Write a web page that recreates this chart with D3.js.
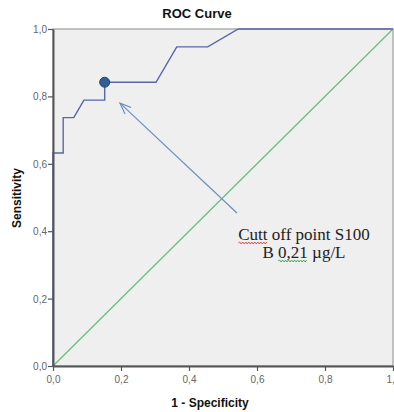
<!DOCTYPE html>
<html>
<head>
<meta charset="utf-8">
<script src="https://cdn.jsdelivr.net/npm/d3@7"></script>
<style>
  body { margin: 0; background: #fff; }
  svg { display: block; }
</style>
</head>
<body>
<div id="chart"></div>
<script>
// ROC points (1 - specificity, sensitivity)
const fpr = [0, 0, 0.030, 0.030, 0.061, 0.091, 0.152, 0.152, 0.303, 0.364, 0.455, 0.545, 1];
const tpr = [0, 0.632, 0.632, 0.737, 0.737, 0.789, 0.789, 0.842, 0.842, 0.947, 0.947, 1, 1];
const cutoff = [0.152, 0.842];
const ticks = [0, 0.2, 0.4, 0.6, 0.8, 1.0];
const tickLabels = ["0,0", "0,2", "0,4", "0,6", "0,8", "1,0"];
const noteLines = ["Cutt off point S100", "B 0,21 \u00b5g/L"];

const W = 394, H = 412;
const margin = { left: 53, right: 1, top: 29, bottom: 46 };
const width = W - margin.left - margin.right;
const height = H - margin.top - margin.bottom;

const svg = d3.select("#chart").append("svg")
  .attr("width", W).attr("height", H);

const x = d3.scaleLinear().domain([0, 1]).range([0, width]);
const y = d3.scaleLinear().domain([0, 1]).range([height, 0]);

const g = svg.append("g")
  .attr("transform", "translate(" + margin.left + "," + margin.top + ")");

// plot background
g.append("rect")
  .attr("x", 0).attr("y", 0)
  .attr("width", width).attr("height", height)
  .attr("fill", "#efefef")
  .attr("stroke", "#8a8a8a")
  .attr("stroke-width", 1);

// reference diagonal
g.append("line")
  .attr("x1", x(0)).attr("y1", y(0))
  .attr("x2", x(1)).attr("y2", y(1))
  .attr("stroke", "#6cbf80")
  .attr("stroke-width", 1.3);

// ROC curve
const pts = fpr.map((d, i) => [d, tpr[i]]);
g.append("path")
  .datum(pts)
  .attr("fill", "none")
  .attr("stroke", "#5866a6")
  .attr("stroke-width", 1.4)
  .attr("d", d3.line().x(d => x(d[0])).y(d => y(d[1])));

// axes
const xAxis = g.append("g")
  .attr("transform", "translate(0," + height + ")")
  .call(d3.axisBottom(x).tickValues(ticks).tickFormat((d, i) => tickLabels[i]).tickSize(5).tickSizeOuter(0));
const yAxis = g.append("g")
  .call(d3.axisLeft(y).tickValues(ticks).tickFormat((d, i) => tickLabels[i]).tickSize(5).tickSizeOuter(0));

[xAxis, yAxis].forEach(a => {
  a.select(".domain").attr("stroke", "#555").attr("stroke-width", 2);
  a.selectAll(".tick line").attr("stroke", "#555").attr("stroke-width", 1.2);
  a.selectAll("text")
    .attr("fill", "#666")
    .style("font-family", "Arial, 'Liberation Sans', sans-serif")
    .style("font-size", "10px");
});
xAxis.selectAll("text").attr("dy", "0.9em");
yAxis.selectAll("text").attr("x", -6).attr("dy", "0.35em");

// cutoff point
g.append("circle")
  .attr("cx", x(cutoff[0])).attr("cy", y(cutoff[1]))
  .attr("r", 5)
  .attr("fill", "#2f5f94")
  .attr("stroke", "#24476f")
  .attr("stroke-width", 1);

// arrow pointing at the cutoff
const a0 = [0.541, 0.454], a1 = [0.197, 0.78];
g.append("line")
  .attr("x1", x(a0[0])).attr("y1", y(a0[1]))
  .attr("x2", x(a1[0])).attr("y2", y(a1[1]))
  .attr("stroke", "#6b8fc2")
  .attr("stroke-width", 1.2);
const ang = Math.atan2(y(a0[1]) - y(a1[1]), x(a0[0]) - x(a1[0]));
const hl = 12, spread = 0.38;
g.append("path")
  .attr("fill", "none")
  .attr("stroke", "#6b8fc2")
  .attr("stroke-width", 1.2)
  .attr("d", "M" + (x(a1[0]) + hl * Math.cos(ang - spread)) + "," + (y(a1[1]) + hl * Math.sin(ang - spread)) +
    "L" + x(a1[0]) + "," + y(a1[1]) +
    "L" + (x(a1[0]) + hl * Math.cos(ang + spread)) + "," + (y(a1[1]) + hl * Math.sin(ang + spread)));

// annotation text
const note = svg.append("text")
  .attr("text-anchor", "middle")
  .attr("fill", "#222")
  .style("font-family", "'Liberation Serif', 'Times New Roman', serif")
  .style("font-size", "17px");
const spans = noteLines.map((t, i) =>
  note.append("tspan").attr("x", 304).attr("y", 240 + i * 18).text(t));

// spell-check squiggles
function squiggle(x0, x1, yy, color) {
  let d = "M" + x0 + "," + yy;
  let up = true;
  for (let xx = x0 + 1.5; xx <= x1; xx += 1.5) {
    d += "L" + xx + "," + (yy + (up ? -1 : 1));
    up = !up;
  }
  svg.append("path").attr("d", d).attr("fill", "none")
    .attr("stroke", color).attr("stroke-width", 0.9);
}
function markWord(span, start, len, yy, color) {
  const node = span.node();
  const x0 = node.getStartPositionOfChar(start).x;
  const x1 = node.getEndPositionOfChar(start + len - 1).x;
  squiggle(x0, x1, yy, color);
}
markWord(spans[0], 0, 4, 243, "#d64545");
markWord(spans[1], 2, 4, 261, "#3fa04a");

// titles
svg.append("text")
  .attr("x", 197).attr("y", 18)
  .attr("text-anchor", "middle")
  .style("font-family", "Arial, 'Liberation Sans', sans-serif")
  .style("font-size", "13px").style("font-weight", "bold")
  .attr("fill", "#111")
  .text("ROC Curve");

svg.append("text")
  .attr("x", 210).attr("y", 407)
  .attr("text-anchor", "middle")
  .style("font-family", "Arial, 'Liberation Sans', sans-serif")
  .style("font-size", "12px").style("font-weight", "bold")
  .attr("fill", "#111")
  .text("1 - Specificity");

svg.append("text")
  .attr("transform", "translate(21,198) rotate(-90)")
  .attr("text-anchor", "middle")
  .style("font-family", "Arial, 'Liberation Sans', sans-serif")
  .style("font-size", "12px").style("font-weight", "bold")
  .attr("fill", "#111")
  .text("Sensitivity");
</script>
</body>
</html>
